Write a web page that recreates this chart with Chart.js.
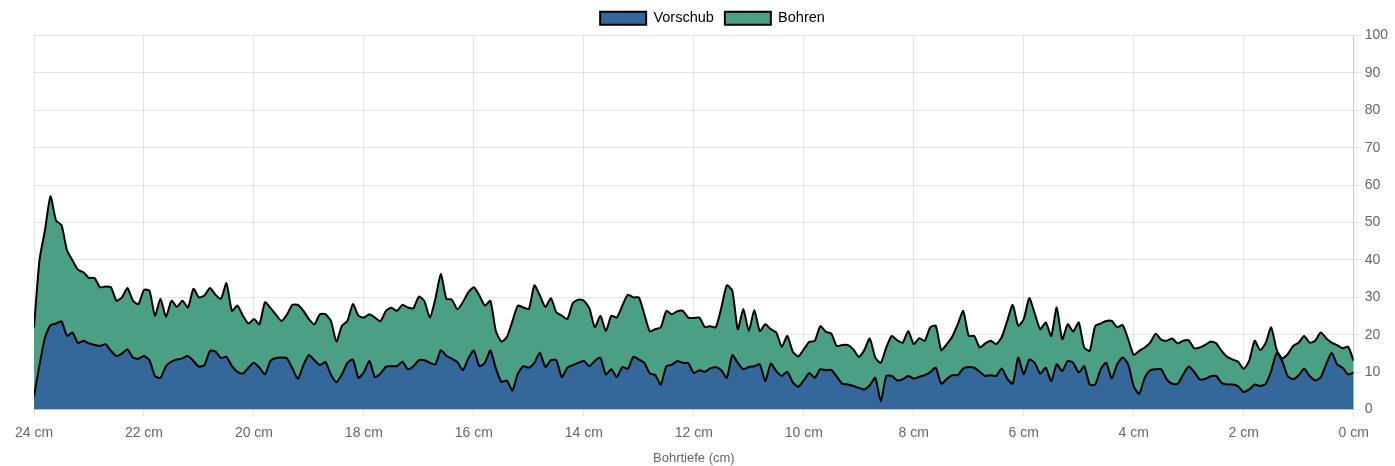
<!DOCTYPE html>
<html>
<head>
<meta charset="utf-8">
<script src="https://cdn.jsdelivr.net/npm/chart.js@4/dist/chart.umd.min.js"></script>
<style>
  html, body { margin: 0; padding: 0; background: #fff; }
  #wrap { width: 1395px; height: 466px; position: relative; }
</style>
</head>
<body>
<div id="wrap"><canvas id="drillChart"></canvas></div>
<script>
const depth = [
  24.0, 23.9, 23.8, 23.7, 23.6, 23.5, 23.4, 23.3, 23.2, 23.1,
  23.0, 22.9, 22.8, 22.7, 22.6, 22.5, 22.4, 22.3, 22.2, 22.1,
  22.0, 21.9, 21.8, 21.7, 21.6, 21.5, 21.4, 21.3, 21.2, 21.1,
  21.0, 20.9, 20.8, 20.7, 20.6, 20.5, 20.4, 20.3, 20.2, 20.1,
  20.0, 19.9, 19.8, 19.7, 19.6, 19.5, 19.4, 19.3, 19.2, 19.1,
  19.0, 18.9, 18.8, 18.7, 18.6, 18.5, 18.4, 18.3, 18.2, 18.1,
  18.0, 17.9, 17.8, 17.7, 17.6, 17.5, 17.4, 17.3, 17.2, 17.1,
  17.0, 16.9, 16.8, 16.7, 16.6, 16.5, 16.4, 16.3, 16.2, 16.1,
  16.0, 15.9, 15.8, 15.7, 15.6, 15.5, 15.4, 15.3, 15.2, 15.1,
  15.0, 14.9, 14.8, 14.7, 14.6, 14.5, 14.4, 14.3, 14.2, 14.1,
  14.0, 13.9, 13.8, 13.7, 13.6, 13.5, 13.4, 13.3, 13.2, 13.1,
  13.0, 12.9, 12.8, 12.7, 12.6, 12.5, 12.4, 12.3, 12.2, 12.1,
  12.0, 11.9, 11.8, 11.7, 11.6, 11.5, 11.4, 11.3, 11.2, 11.1,
  11.0, 10.9, 10.8, 10.7, 10.6, 10.5, 10.4, 10.3, 10.2, 10.1,
  10.0, 9.9, 9.8, 9.7, 9.6, 9.5, 9.4, 9.3, 9.2, 9.1,
  9.0, 8.9, 8.8, 8.7, 8.6, 8.5, 8.4, 8.3, 8.2, 8.1,
  8.0, 7.9, 7.8, 7.7, 7.6, 7.5, 7.4, 7.3, 7.2, 7.1,
  7.0, 6.9, 6.8, 6.7, 6.6, 6.5, 6.4, 6.3, 6.2, 6.1,
  6.0, 5.9, 5.8, 5.7, 5.6, 5.5, 5.4, 5.3, 5.2, 5.1,
  5.0, 4.9, 4.8, 4.7, 4.6, 4.5, 4.4, 4.3, 4.2, 4.1,
  4.0, 3.9, 3.8, 3.7, 3.6, 3.5, 3.4, 3.3, 3.2, 3.1,
  3.0, 2.9, 2.8, 2.7, 2.6, 2.5, 2.4, 2.3, 2.2, 2.1,
  2.0, 1.9, 1.8, 1.7, 1.6, 1.5, 1.4, 1.3, 1.2, 1.1,
  1.0, 0.9, 0.8, 0.7, 0.6, 0.5, 0.4, 0.3, 0.2, 0.1,
  0.0
];

// Vorschub (feed) – lower band
const vorschub = [
  3.5, 12, 19.3, 22.6, 23, 23.6, 19.7, 20.6, 17.8, 18.4,
  17.7, 17.3, 17, 17.5, 15.7, 14.3, 15, 16.1, 13.9, 13.6,
  14.3, 13.2, 9, 8.5, 11.6, 12.8, 13.4, 13.7, 14.3, 13,
  11.5, 11.9, 15.7, 15.5, 13.8, 14.1, 11.6, 10.1, 9.6, 11.2,
  12.5, 11.2, 9.4, 13, 13.8, 13.9, 13.7, 11, 8.2, 11.9,
  14.6, 13.2, 11.9, 12.7, 9.4, 7.3, 9.4, 12.5, 13.4, 8.5,
  10, 13, 8.7, 9.6, 11.5, 11.6, 11.6, 12.8, 10.8, 11.6,
  13.2, 13.2, 12.5, 12.1, 15.9, 14.4, 13.6, 12.7, 10.5, 13.7,
  15.8, 11.6, 12.5, 15.8, 11, 7.4, 7.8, 5.1, 9.6, 11.6,
  11.2, 12.5, 15.2, 11.4, 13.2, 13.2, 8.7, 11.2, 11.9, 12.5,
  13, 11.6, 13, 13.9, 9.4, 10.8, 8.7, 11.4, 10.9, 14.1,
  13.4, 12.5, 9.7, 9.2, 6.7, 11.6, 12, 13, 12.5, 12.4,
  9.8, 10.5, 10.1, 11, 11.4, 10.5, 8.5, 14.6, 12.5, 10.8,
  11.4, 11.6, 12.1, 7.6, 12.3, 10.3, 9, 10.1, 7.3, 6.1,
  7.8, 9.8, 8.5, 10.8, 10.5, 10.6, 8.8, 6.9, 6.7, 6.3,
  5.8, 5.4, 6.5, 8.5, 2.2, 9, 9, 7.8, 8.1, 9,
  8.3, 8.8, 9.2, 10, 11.2, 6.9, 8.2, 9.2, 9.2, 11,
  11.4, 11.2, 10.1, 9, 9.2, 9, 11, 8.3, 6.9, 13.9,
  9.4, 13.4, 12.5, 9.6, 11.2, 7.6, 12.1, 10.3, 13, 12.5,
  9.9, 11.6, 6.7, 6.7, 10.8, 12.5, 8.3, 12.1, 13.9, 12.1,
  6.3, 4.2, 8.5, 10.5, 10.8, 10.8, 8.1, 6.9, 6.9, 9.4,
  11.5, 10.1, 8.1, 8.2, 8.9, 9, 7.1, 6.7, 6.7, 6.2,
  4.7, 5.4, 6.7, 6.3, 6.9, 10.3, 15.1, 13, 9, 8.1,
  9.2, 10.9, 9, 7.8, 8.6, 12.1, 15.2, 12.1, 11.2, 9.4,
  9.9
];

// Bohren (drilling) – stacked on top of Vorschub
const bohren = [
  18.5, 28, 28.7, 34.4, 27.6, 25.7, 22.9, 19.3, 19.6, 18.3,
  17.5, 17.9, 15.7, 15.4, 17, 14.8, 15, 16.4, 15.2, 14.6,
  17.7, 18.6, 16.1, 21.1, 13.2, 16.3, 14.1, 15.4, 13, 19.3,
  18.5, 18.6, 16.8, 15.2, 15.8, 19.7, 14.8, 17.7, 15.5, 11.8,
  11.7, 11.6, 19.3, 14.2, 11.6, 9.8, 11.7, 17, 19.8, 14.5,
  9.6, 9.6, 13.6, 12.8, 14.3, 10.9, 13, 11.2, 14.8, 16.6,
  14.6, 12.5, 15.9, 14, 14.9, 15.6, 14.8, 15.2, 16.5, 15.5,
  17, 15.8, 12.1, 17.5, 20.4, 15.2, 15.8, 14.1, 18.2, 17.7,
  16.9, 18.9, 15.3, 13.3, 10, 10.8, 11.6, 18.5, 18.2, 15.7,
  15.7, 20.7, 15.3, 16, 16.6, 12.8, 16.4, 13, 16.6, 16.9,
  16.1, 15.5, 9, 11.2, 11.6, 14.3, 15.9, 16.4, 19.8, 15.9,
  16.6, 13, 11.2, 12.3, 15.3, 14.8, 13.5, 13.3, 13.9, 12.2,
  14.7, 14.1, 12, 11.3, 10.6, 16.7, 24.7, 17.2, 9, 16.1,
  9.6, 15, 8.9, 15.2, 9.2, 10.3, 7.8, 9.6, 8.2, 8.1,
  8.3, 8.3, 9.9, 11.5, 10.3, 9.7, 8.2, 10.4, 10.6, 9.8,
  8.3, 10.5, 12.5, 5.4, 10.3, 7.6, 10.7, 10.7, 9.8, 12,
  9.2, 10.3, 9.2, 12, 11.2, 9, 9.3, 10.3, 13.6, 15.4,
  8.3, 8.5, 6.5, 8.7, 9.2, 8.5, 8.4, 15.4, 21.1, 8.5,
  14.8, 16.4, 13.2, 11.9, 12.1, 12.1, 15.2, 8.5, 9.8, 8.4,
  13.4, 5, 9, 15.7, 12.2, 11.2, 15.4, 9.9, 8.7, 6.7,
  8.3, 11.5, 8.1, 7.4, 9.5, 7.9, 10.3, 12.1, 10.8, 9,
  7, 6.3, 8.5, 9.1, 9.3, 8.7, 8.6, 7.4, 6.7, 6.6,
  6.2, 7.6, 11.7, 9.6, 10.9, 11.7, 0.9, 0.7, 5.8, 8.9,
  8.7, 8.8, 8.9, 10.6, 12, 7, 2.7, 5.1, 5.2, 7.4,
  3.1
];

const fontFamily = "'Liberation Sans', Arial, Helvetica, sans-serif";
Chart.defaults.font.family = fontFamily;
Chart.defaults.font.size = 14;
Chart.defaults.color = "#666";

function toPoints(values) {
  return values.map((v, i) => ({ x: depth[i], y: v }));
}

new Chart(document.getElementById("drillChart"), {
  type: "line",
  data: {
    datasets: [
      {
        label: "Vorschub",
        data: toPoints(vorschub),
        backgroundColor: "#35689a",
        borderColor: "#000",
        borderWidth: 2,
        pointRadius: 0,
        tension: 0.2,
        fill: "origin"
      },
      {
        label: "Bohren",
        data: toPoints(bohren),
        backgroundColor: "#4b9f84",
        borderColor: "#000",
        borderWidth: 2,
        pointRadius: 0,
        tension: 0.2,
        fill: "-1"
      }
    ]
  },
  options: {
    responsive: true,
    maintainAspectRatio: false,
    animation: false,
    layout: { padding: { left: 34, right: 4 } },
    plugins: {
      legend: {
        position: "top",
        labels: { boxWidth: 46, boxHeight: 13, padding: 11, color: "#000", font: { size: 14.5 } }
      },
      tooltip: { enabled: false }
    },
    scales: {
      x: {
        type: "linear",
        reverse: true,
        min: 0,
        max: 24,
        ticks: { stepSize: 2, padding: 7, callback: (v) => v + " cm" },
        title: { display: true, text: "Bohrtiefe (cm)", font: { size: 13 }, padding: { top: 2, bottom: 0 } },
        grid: { color: "rgba(0,0,0,0.1)" }
      },
      y: {
        position: "right",
        stacked: true,
        min: 0,
        max: 100,
        ticks: { stepSize: 10 },
        grid: { color: "rgba(0,0,0,0.1)" }
      }
    }
  }
});
</script>
</body>
</html>
